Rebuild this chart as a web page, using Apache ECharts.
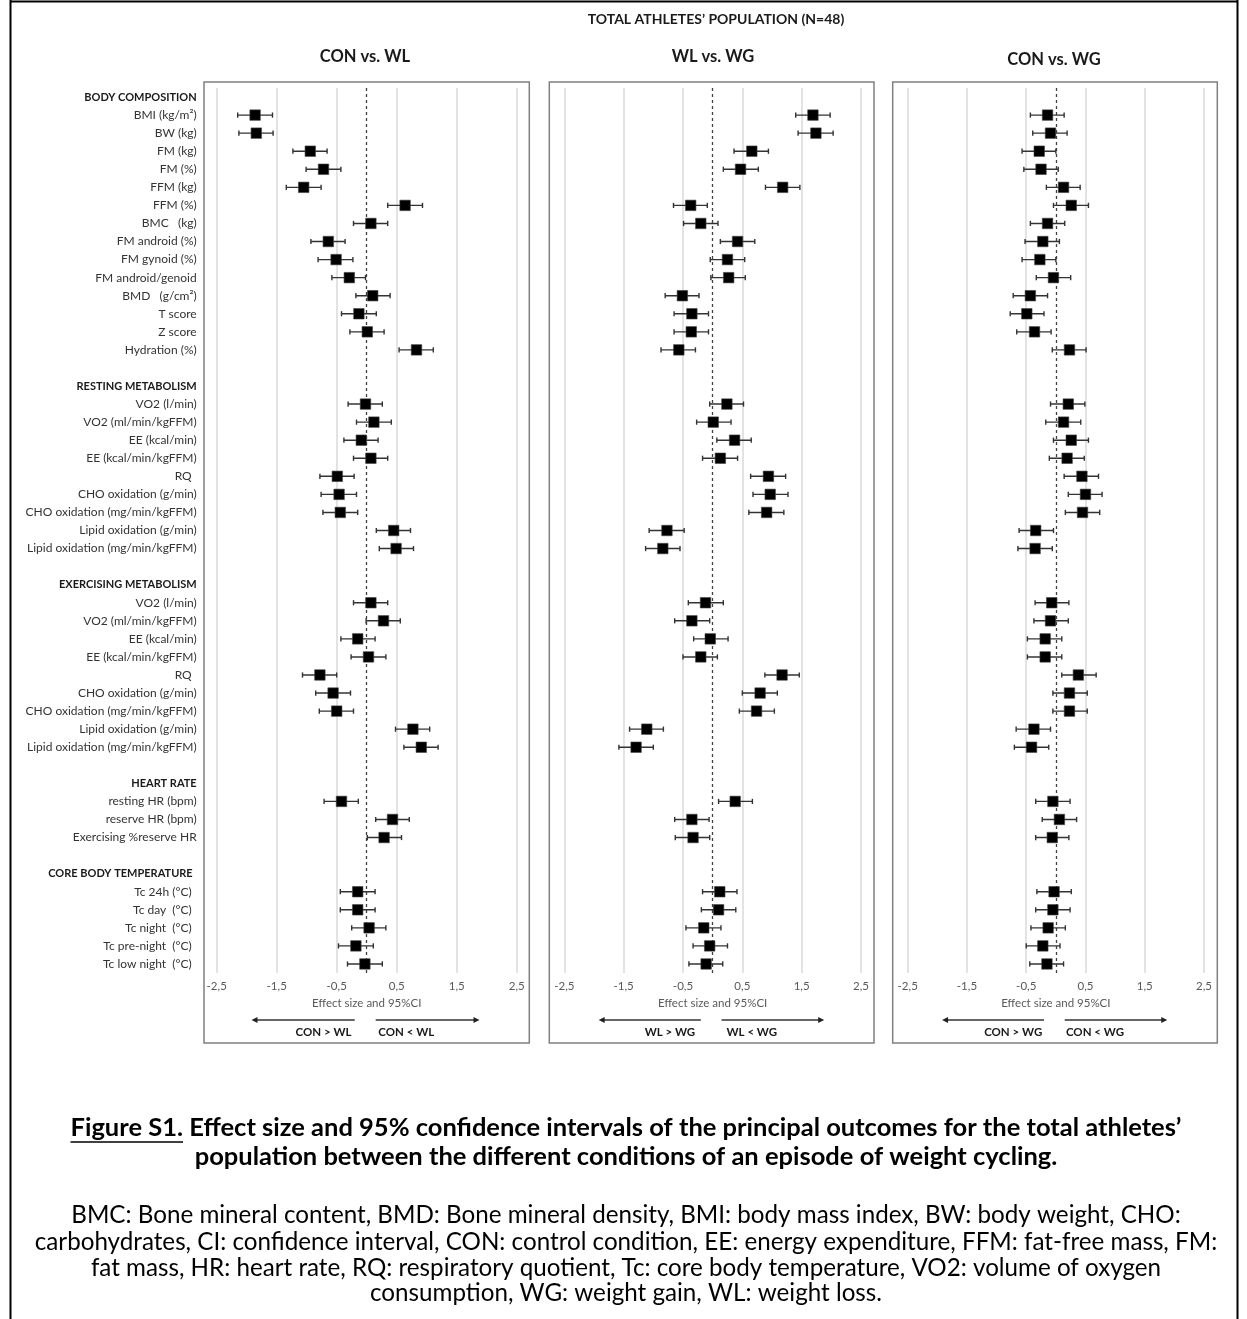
<!DOCTYPE html>
<html><head><meta charset="utf-8">
<script src="https://cdn.jsdelivr.net/npm/echarts/dist/echarts.min.js"></script>
<style>html,body{margin:0;padding:0;background:#fff}#c{width:1247px;height:1319px}</style>
</head><body><div id="c"></div><script>
// ---------------- DATA ----------------
const groupNames = ['BODY COMPOSITION', 'RESTING METABOLISM', 'EXERCISING METABOLISM', 'HEART RATE', 'CORE BODY TEMPERATURE'];
const bodyItems = ['BMI (kg/m²)', 'BW (kg)', 'FM (kg)', 'FM (%)', 'FFM (kg)', 'FFM (%)', 'BMC   (kg)', 'FM android (%)', 'FM gynoid (%)', 'FM android/genoid', 'BMD   (g/cm²)', 'T score', 'Z score', 'Hydration (%)'];
const restItems = ['VO2 (l/min)', 'VO2 (ml/min/kgFFM)', 'EE (kcal/min)', 'EE (kcal/min/kgFFM)', 'RQ', 'CHO oxidation (g/min)', 'CHO oxidation (mg/min/kgFFM)', 'Lipid oxidation (g/min)', 'Lipid oxidation (mg/min/kgFFM)'];
const exItems = ['VO2 (l/min)', 'VO2 (ml/min/kgFFM)', 'EE (kcal/min)', 'EE (kcal/min/kgFFM)', 'RQ', 'CHO oxidation (g/min)', 'CHO oxidation (mg/min/kgFFM)', 'Lipid oxidation (g/min)', 'Lipid oxidation (mg/min/kgFFM)'];
const hrItems = ['resting HR (bpm)', 'reserve HR (bpm)', 'Exercising %reserve HR'];
const tcItems = ['Tc 24h (°C)', 'Tc day  (°C)', 'Tc night  (°C)', 'Tc pre-night  (°C)', 'Tc low night  (°C)'];

const panelTitles = ['CON vs. WL', 'WL vs. WG', 'CON vs. WG'];
const arrowLabels = [['CON > WL', 'CON < WL'], ['WL > WG', 'WL < WG'], ['CON > WG', 'CON < WG']];
const xTicks = [-2.5, -1.5, -0.5, 0.5, 1.5, 2.5];

// effect sizes (40 outcomes, order as listed above)
const esConWl = [-1.86,-1.84,-0.94,-0.72,-1.05,0.64,0.07,-0.64,-0.51,-0.29,0.10,-0.13,0.01,0.83,
  -0.02,0.12,-0.09,0.07,-0.49,-0.46,-0.44,0.45,0.49,
  0.07,0.28,-0.15,0.03,-0.78,-0.56,-0.50,0.77,0.91,
  -0.42,0.43,0.29,
  -0.15,-0.15,0.04,-0.18,-0.03];
const loConWl = [-2.15,-2.13,-1.23,-1.01,-1.34,0.35,-0.22,-0.93,-0.81,-0.58,-0.18,-0.42,-0.28,0.54,
  -0.31,-0.17,-0.38,-0.22,-0.78,-0.76,-0.73,0.16,0.21,
  -0.22,-0.01,-0.43,-0.26,-1.07,-0.85,-0.79,0.48,0.62,
  -0.71,0.15,0.01,
  -0.44,-0.44,-0.25,-0.47,-0.32];
const hiConWl = [-1.57,-1.56,-0.66,-0.43,-0.76,0.93,0.35,-0.36,-0.23,-0.02,0.39,0.16,0.29,1.11,
  0.26,0.41,0.19,0.35,-0.21,-0.17,-0.15,0.73,0.78,
  0.35,0.56,0.14,0.32,-0.50,-0.27,-0.22,1.05,1.19,
  -0.14,0.71,0.58,
  0.14,0.14,0.32,0.11,0.26];

const esWlWg = [1.69,1.74,0.66,0.47,1.18,-0.37,-0.20,0.42,0.25,0.27,-0.51,-0.35,-0.36,-0.57,
  0.24,0.01,0.37,0.13,0.94,0.97,0.91,-0.77,-0.84,
  -0.12,-0.35,-0.04,-0.20,1.17,0.80,0.74,-1.11,-1.29,
  0.38,-0.35,-0.33,
  0.12,0.10,-0.15,-0.05,-0.11];
const loWlWg = [1.40,1.44,0.36,0.18,0.89,-0.66,-0.49,0.13,-0.04,-0.03,-0.80,-0.65,-0.65,-0.87,
  -0.05,-0.27,0.07,-0.17,0.64,0.68,0.61,-1.07,-1.13,
  -0.41,-0.64,-0.32,-0.50,0.88,0.50,0.45,-1.40,-1.58,
  0.10,-0.64,-0.63,
  -0.17,-0.19,-0.45,-0.33,-0.40];
const hiWlWg = [1.98,2.03,0.94,0.77,1.47,-0.09,0.09,0.71,0.54,0.55,-0.23,-0.07,-0.07,-0.29,
  0.52,0.31,0.65,0.42,1.23,1.27,1.20,-0.48,-0.55,
  0.18,-0.05,0.26,0.08,1.46,1.09,1.04,-0.83,-1.00,
  0.67,-0.06,-0.05,
  0.41,0.39,0.14,0.25,0.17];

const esConWg = [-0.14,-0.09,-0.28,-0.25,0.13,0.26,-0.14,-0.22,-0.27,-0.04,-0.43,-0.49,-0.36,0.23,
  0.21,0.13,0.26,0.19,0.44,0.50,0.45,-0.34,-0.35,
  -0.07,-0.09,-0.18,-0.18,0.38,0.23,0.23,-0.37,-0.41,
  -0.05,0.06,-0.06,
  -0.03,-0.05,-0.13,-0.22,-0.15];
const loConWg = [-0.43,-0.39,-0.57,-0.54,-0.16,-0.04,-0.43,-0.52,-0.57,-0.33,-0.72,-0.77,-0.66,-0.06,
  -0.09,-0.17,-0.04,-0.11,0.14,0.21,0.16,-0.62,-0.64,
  -0.35,-0.37,-0.48,-0.48,0.10,-0.05,-0.05,-0.67,-0.70,
  -0.34,-0.23,-0.34,
  -0.32,-0.34,-0.42,-0.50,-0.44];
const hiConWg = [0.14,0.19,0.00,0.04,0.41,0.55,0.15,0.06,0.00,0.25,-0.14,-0.20,-0.08,0.51,
  0.49,0.42,0.55,0.48,0.72,0.78,0.74,-0.04,-0.06,
  0.22,0.21,0.10,0.10,0.68,0.53,0.53,-0.09,-0.12,
  0.24,0.35,0.22,
  0.26,0.24,0.16,0.07,0.13];

const captionTitle1a = 'Figure S1.';
const captionTitle1b = ' Effect size and 95% confidence intervals of the principal outcomes for the total athletes’';
const captionTitle2 = 'population between the different conditions of an episode of weight cycling.';
const captionText = [
  'BMC: Bone mineral content, BMD: Bone mineral density, BMI: body mass index, BW: body weight, CHO:',
  'carbohydrates, CI: confidence interval, CON: control condition, EE: energy expenditure, FFM: fat-free mass, FM:',
  'fat mass, HR: heart rate, RQ: respiratory quotient, Tc: core body temperature, VO2: volume of oxygen',
  'consumption, WG: weight gain, WL: weight loss.'
];

// ---------------- BUILD ----------------
const groupItems = [bodyItems, restItems, exItems, hrItems, tcItems];
const categories = [];
const rowKind = [];
const outcomeRows = [];
groupNames.forEach((g, gi) => {
  if (gi > 0) { categories.push(' '.repeat(gi)); rowKind.push('b'); }
  categories.push(g); rowKind.push(gi === 4 ? 'ht' : 'h');
  groupItems[gi].forEach(it => {
    outcomeRows.push(categories.length);
    categories.push(it);
    rowKind.push(gi === 4 ? 't' : (it === 'RQ' ? 'rq' : 'n'));
  });
});

const panels = [
  [loConWl, esConWl, hiConWl],
  [loWlWg, esWlWg, hiWlWg],
  [loConWg, esConWg, hiConWg]
];

const FONT = 'Lato';
const gridTop = 88, gridH = 885;
const gridLefts = [216.7, 564.3, 907.7];
const gridWidths = [300, 296.7, 296.3];
const frames = [[204, 529.3], [549.3, 874], [892.7, 1217.3]];
const titleY = [57, 57, 60];
const titleX = [365, 713, 1054];

function renderItem(params, api) {
  const row = api.value(3);
  const lo = api.coord([api.value(0), row]);
  const mid = api.coord([api.value(1), row]);
  const hi = api.coord([api.value(2), row]);
  const y = mid[1], cap = 2.6, s = 10.5;
  const ls = { stroke: '#333', lineWidth: 1.4 };
  return { type: 'group', children: [
    { type: 'line', shape: { x1: lo[0], y1: y, x2: hi[0], y2: y }, style: ls },
    { type: 'line', shape: { x1: lo[0], y1: y - cap, x2: lo[0], y2: y + cap }, style: ls },
    { type: 'line', shape: { x1: hi[0], y1: y - cap, x2: hi[0], y2: y + cap }, style: ls },
    { type: 'rect', shape: { x: mid[0] - s / 2, y: y - s / 2, width: s, height: s }, style: { fill: '#000', stroke: '#444', lineWidth: 0.6 } }
  ]};
}

const grids = [], xAxes = [], yAxes = [], series = [];
panels.forEach((p, i) => {
  grids.push({ left: gridLefts[i], top: gridTop, width: gridWidths[i], height: gridH });
  xAxes.push({
    gridIndex: i, type: 'value', min: xTicks[0], max: xTicks[xTicks.length - 1], interval: 1,
    axisLine: { show: false }, axisTick: { show: false },
    splitLine: { show: true, lineStyle: { color: '#dadada', width: 1.5 } },
    axisLabel: { formatter: v => v.toFixed(1).replace('.', ','), fontSize: 11.5, color: '#595959', margin: 7, fontFamily: FONT },
    name: 'Effect size and 95%CI', nameLocation: 'middle', nameGap: 23,
    nameTextStyle: { fontSize: 11.5, color: '#595959', fontFamily: FONT }
  });
  yAxes.push({
    gridIndex: i, type: 'category', data: categories, inverse: true,
    axisLine: { show: false }, axisTick: { show: false }, splitLine: { show: false },
    axisLabel: {
      show: i === 0, interval: 0, margin: 20,
      formatter: (v, idx) => rowKind[idx] === 'b' ? '' : '{' + rowKind[idx] + '|' + v + '}',
      rich: {
        h: { fontWeight: 'bold', fontSize: 11, color: '#1a1a1a', fontFamily: FONT },
        ht: { fontWeight: 'bold', fontSize: 11, color: '#1a1a1a', fontFamily: FONT, padding: [0, 4, 0, 0] },
        n: { fontSize: 12, color: '#333', fontFamily: FONT },
        rq: { fontSize: 12, color: '#333', fontFamily: FONT, padding: [0, 5, 0, 0] },
        t: { fontSize: 12, color: '#333', fontFamily: FONT, padding: [0, 5, 0, 0] }
      }
    }
  });
  const data = outcomeRows.map((r, k) => [p[0][k], p[1][k], p[2][k], r]);
  series.push({
    type: 'custom', xAxisIndex: i, yAxisIndex: i, renderItem, data,
    encode: { x: [0, 1, 2], y: 3 }, z: 5, silent: true
  });
  series.push({
    type: 'line', xAxisIndex: i, yAxisIndex: i, data: [], silent: true,
    markLine: { symbol: ['none', 'none'], silent: true, label: { show: false },
      lineStyle: { type: [3, 3], color: '#404040', width: 1.3 }, data: [{ xAxis: 0 }] }
  });
});

const chart = echarts.init(document.getElementById('c'), null, { renderer: 'canvas' });
chart.setOption({
  animation: false,
  textStyle: { fontFamily: FONT },
  grid: grids, xAxis: xAxes, yAxis: yAxes, series
});

// ---------------- ANNOTATIONS ----------------
function measure(text, font) {
  const ctx = document.createElement('canvas').getContext('2d');
  ctx.font = font; return ctx.measureText(text).width;
}
const g = [];
// outer frame
g.push({ type: 'line', shape: { x1: 10.5, y1: 0, x2: 10.5, y2: 1319 }, style: { stroke: '#000', lineWidth: 2 } });
g.push({ type: 'line', shape: { x1: 10, y1: 1.5, x2: 1238, y2: 1.5 }, style: { stroke: '#000', lineWidth: 2 } });
g.push({ type: 'line', shape: { x1: 1237.5, y1: 0, x2: 1237.5, y2: 1319 }, style: { stroke: '#000', lineWidth: 2 } });
// main header
g.push({ type: 'text', style: { text: 'TOTAL ATHLETES’ POPULATION (N=48)', x: 716, y: 19, align: 'center', verticalAlign: 'middle', fontSize: 14, fontWeight: 'bold', fontFamily: FONT, fill: '#1a1a1a' } });
panels.forEach((p, i) => {
  g.push({ type: 'rect', shape: { x: frames[i][0], y: 82, width: frames[i][1] - frames[i][0], height: 961 }, style: { fill: 'none', stroke: '#808080', lineWidth: 1.5 }, z: 10 });
  g.push({ type: 'text', style: { text: panelTitles[i], x: titleX[i], y: titleY[i], align: 'center', verticalAlign: 'middle', fontSize: 16.5, fontWeight: 'bold', fontFamily: FONT, fill: '#1a1a1a' } });
  const px = v => chart.convertToPixel({ xAxisIndex: i }, v);
  const ay = 1020, ly = 1032;
  const lStart = px(-0.2), lEnd = px(-1.92), rStart = px(0.15), rEnd = px(1.88);
  g.push({ type: 'line', shape: { x1: lStart, y1: ay, x2: lEnd + 4, y2: ay }, style: { stroke: '#333', lineWidth: 1.4 } });
  g.push({ type: 'polygon', shape: { points: [[lEnd, ay], [lEnd + 6, ay - 3], [lEnd + 6, ay + 3]] }, style: { fill: '#222' } });
  g.push({ type: 'line', shape: { x1: rStart, y1: ay, x2: rEnd - 4, y2: ay }, style: { stroke: '#333', lineWidth: 1.4 } });
  g.push({ type: 'polygon', shape: { points: [[rEnd, ay], [rEnd - 6, ay - 3], [rEnd - 6, ay + 3]] }, style: { fill: '#222' } });
  g.push({ type: 'text', style: { text: arrowLabels[i][0], x: px(-0.72), y: ly, align: 'center', verticalAlign: 'middle', fontSize: 11.5, fontWeight: 'bold', fontFamily: FONT, fill: '#1a1a1a' } });
  g.push({ type: 'text', style: { text: arrowLabels[i][1], x: px(0.66), y: ly, align: 'center', verticalAlign: 'middle', fontSize: 11.5, fontWeight: 'bold', fontFamily: FONT, fill: '#1a1a1a' } });
});
// caption: font sizes chosen so that the lines span the same width as in the source
const cx = 626, c1y = 1128;
const capSize = Math.round(20 * 1110 / (measure(captionTitle1a + captionTitle1b, 'bold 20px ' + FONT)) * 10) / 10;
const capFont = 'bold ' + capSize + 'px ' + FONT;
const wA = measure(captionTitle1a, capFont), wB = measure(captionTitle1b, capFont);
const sx = cx - (wA + wB) / 2;
g.push({ type: 'text', style: { text: captionTitle1a, x: sx, y: c1y, align: 'left', verticalAlign: 'middle', fontSize: capSize, fontWeight: 'bold', fontFamily: FONT, fill: '#000' } });
g.push({ type: 'line', shape: { x1: sx, y1: c1y + capSize * 0.55, x2: sx + wA, y2: c1y + capSize * 0.55 }, style: { stroke: '#000', lineWidth: 1.6 } });
g.push({ type: 'text', style: { text: captionTitle1b, x: sx + wA, y: c1y, align: 'left', verticalAlign: 'middle', fontSize: capSize, fontWeight: 'bold', fontFamily: FONT, fill: '#000' } });
g.push({ type: 'text', style: { text: captionTitle2, x: cx, y: c1y + 29, align: 'center', verticalAlign: 'middle', fontSize: capSize, fontWeight: 'bold', fontFamily: FONT, fill: '#000' } });
const descSize = Math.round(20 * 1185 / measure(captionText[1], '20px ' + FONT) * 10) / 10;
const descY = [1215, 1242, 1268, 1293];
captionText.forEach((t, k) => {
  g.push({ type: 'text', style: { text: t, x: cx, y: descY[k], align: 'center', verticalAlign: 'middle', fontSize: descSize, fontFamily: FONT, fill: '#000' } });
});
chart.setOption({ graphic: g });
</script></body></html>
